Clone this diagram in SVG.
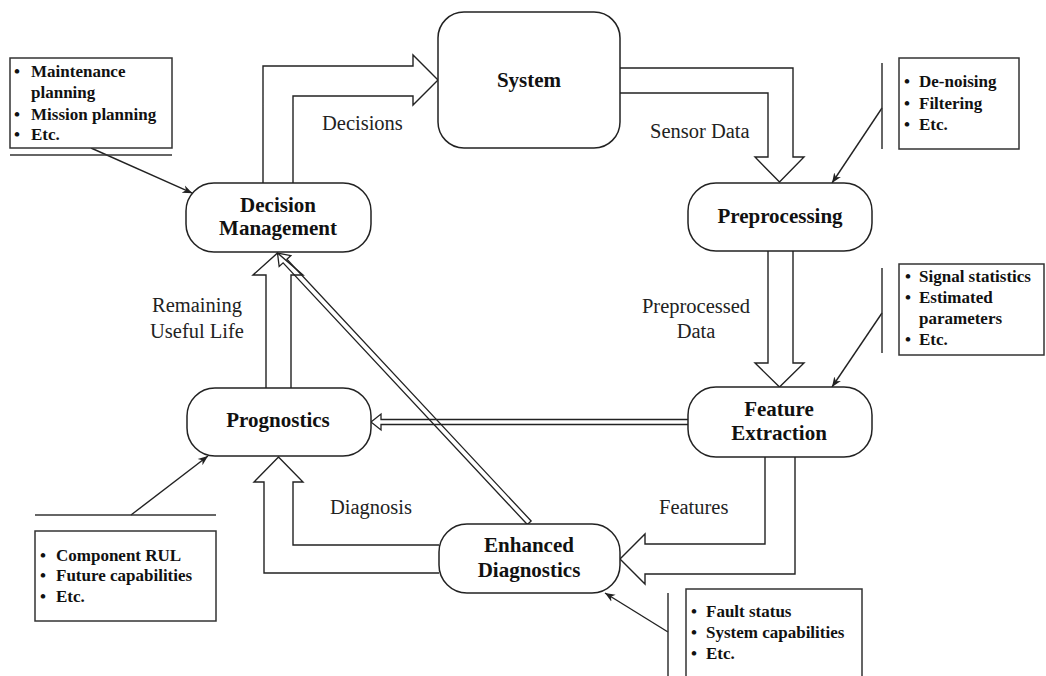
<svg xmlns="http://www.w3.org/2000/svg" width="1046" height="676" viewBox="0 0 1046 676">
<defs>
<style>
.node rect{fill:#fff;stroke:#222;stroke-width:1.5}
.nt{font-family:"Liberation Serif",serif;font-weight:bold;font-size:21px;text-anchor:middle;fill:#111}
.lbl{font-family:"Liberation Serif",serif;font-size:20.5px;fill:#222}
.fat{fill:#fff;stroke:#222;stroke-width:1.4;stroke-linejoin:miter}
.hol{fill:none;stroke:#222;stroke-width:1.3}
.ptr{stroke:#222;stroke-width:1.4;fill:none;marker-end:url(#ah)}
.box{fill:#fff;stroke:#333;stroke-width:1.5}
.rule{stroke:#333;stroke-width:1.5;fill:none}
.note text{font-family:"Liberation Serif",serif;font-weight:bold;font-size:17px;fill:#111}
</style>
<marker id="ah" viewBox="0 0 10 10" refX="10" refY="5" markerWidth="10" markerHeight="10" markerUnits="userSpaceOnUse" orient="auto">
<path d="M0,1 L10,5 L0,9 L3,5 Z" fill="#222"/>
</marker>
</defs>
<rect width="1046" height="676" fill="#fff"/>

<g id="connectors">
<path class="fat" d="M263,183 L263,66 L413,66 L413,55 L438,80 L413,105 L413,96 L293,96 L293,183"/>
<path class="fat" d="M620,68 L793,68 L793,157 L804,157 L779.5,182 L755,157 L768,157 L768,93 L620,93"/>
<path class="fat" d="M768,251 L768,363 L755,363 L779.5,387 L804,363 L793,363 L793,251"/>
<path class="fat" d="M765,457 L765,544 L645,544 L645,534 L620,559 L645,584 L645,574 L795,574 L795,457"/>
<path class="fat" d="M439,545 L293,545 L293,482 L303,482 L278.5,457 L254,482 L264,482 L264,573 L439,573"/>
<path class="fat" d="M266,388 L266,275 L253,275 L277.5,253 L303,275 L291,275 L291,388"/>
<path class="hol" d="M688,419.5 L381,419.5 L381,414 L371,422 L381,430 L381,424.5 L688,424.5"/>
<path class="hol" transform="translate(277.5,253) rotate(46.98)" d="M369,-2.6 L11,-2.6 L11,-8 L0,0 L11,8 L11,2.6 L369,2.6 Z"/>
<line class="ptr" x1="91" y1="148" x2="192.4" y2="193.2"/>
<line class="ptr" x1="882" y1="108" x2="832" y2="183"/>
<line class="ptr" x1="882" y1="313" x2="832" y2="387"/>
<line class="ptr" x1="131" y1="515" x2="208" y2="456"/>
<line class="ptr" x1="668" y1="632" x2="605" y2="593"/>
<text class="lbl" x="322" y="130">Decisions</text>
<text class="lbl" x="650" y="138">Sensor Data</text>
<text class="lbl" x="696" y="313" text-anchor="middle">Preprocessed</text>
<text class="lbl" x="696" y="338" text-anchor="middle">Data</text>
<text class="lbl" x="197" y="312" text-anchor="middle">Remaining</text>
<text class="lbl" x="197" y="338" text-anchor="middle">Useful Life</text>
<text class="lbl" x="330" y="514">Diagnosis</text>
<text class="lbl" x="659" y="514">Features</text>
</g>

<g id="system" class="node">
<rect x="438" y="12" width="182" height="136" rx="26"/>
<text class="nt" x="529" y="87">System</text>
</g>
<g id="decision-management" class="node">
<rect x="186" y="183" width="185" height="69" rx="28"/>
<text class="nt" x="278" y="212">Decision</text>
<text class="nt" x="278" y="235">Management</text>
</g>
<g id="preprocessing" class="node">
<rect x="688" y="183" width="184" height="68" rx="28"/>
<text class="nt" x="780" y="223">Preprocessing</text>
</g>
<g id="feature-extraction" class="node">
<rect x="688" y="387" width="184" height="70" rx="28"/>
<text class="nt" x="779" y="416">Feature</text>
<text class="nt" x="779" y="440">Extraction</text>
</g>
<g id="prognostics" class="node">
<rect x="187" y="388" width="184" height="68" rx="28"/>
<text class="nt" x="278" y="427">Prognostics</text>
</g>
<g id="enhanced-diagnostics" class="node">
<rect x="439" y="524" width="181" height="69" rx="28"/>
<text class="nt" x="529" y="552">Enhanced</text>
<text class="nt" x="529" y="577">Diagnostics</text>
</g>

<g id="note-decision" class="note">
<rect class="box" x="10" y="58" width="162" height="90"/>
<line class="rule" x1="10" y1="155" x2="172" y2="155" stroke-width="2"/>
<text x="17" y="77" text-anchor="middle">•</text><text x="31" y="77">Maintenance</text>
<text x="31" y="98">planning</text>
<text x="17" y="120" text-anchor="middle">•</text><text x="31" y="120">Mission planning</text>
<text x="17" y="140" text-anchor="middle">•</text><text x="31" y="140">Etc.</text>
</g>
<g id="note-preprocessing" class="note">
<line class="rule" x1="882" y1="63" x2="882" y2="149"/>
<rect class="box" x="899" y="58" width="120" height="91"/>
<text x="907" y="87" text-anchor="middle">•</text><text x="919" y="87">De-noising</text>
<text x="907" y="109" text-anchor="middle">•</text><text x="919" y="109">Filtering</text>
<text x="907" y="130" text-anchor="middle">•</text><text x="919" y="130">Etc.</text>
</g>
<g id="note-features" class="note">
<line class="rule" x1="882" y1="268" x2="882" y2="353"/>
<rect class="box" x="899" y="264" width="145" height="91"/>
<text x="908" y="282" text-anchor="middle">•</text><text x="919" y="282">Signal statistics</text>
<text x="908" y="303" text-anchor="middle">•</text><text x="919" y="303">Estimated</text>
<text x="919" y="324">parameters</text>
<text x="908" y="345" text-anchor="middle">•</text><text x="919" y="345">Etc.</text>
</g>
<g id="note-prognostics" class="note">
<line class="rule" x1="35" y1="515" x2="216" y2="515"/>
<rect class="box" x="35" y="531" width="181" height="90"/>
<text x="43" y="561" text-anchor="middle">•</text><text x="56" y="561">Component RUL</text>
<text x="43" y="581" text-anchor="middle">•</text><text x="56" y="581">Future capabilities</text>
<text x="43" y="602" text-anchor="middle">•</text><text x="56" y="602">Etc.</text>
</g>
<g id="note-diagnostics" class="note">
<line class="rule" x1="668" y1="593" x2="668" y2="676"/>
<rect class="box" x="686" y="589" width="176" height="100"/>
<text x="694" y="617" text-anchor="middle">•</text><text x="706" y="617">Fault status</text>
<text x="694" y="638" text-anchor="middle">•</text><text x="706" y="638">System capabilities</text>
<text x="694" y="659" text-anchor="middle">•</text><text x="706" y="659">Etc.</text>
</g>
</svg>
